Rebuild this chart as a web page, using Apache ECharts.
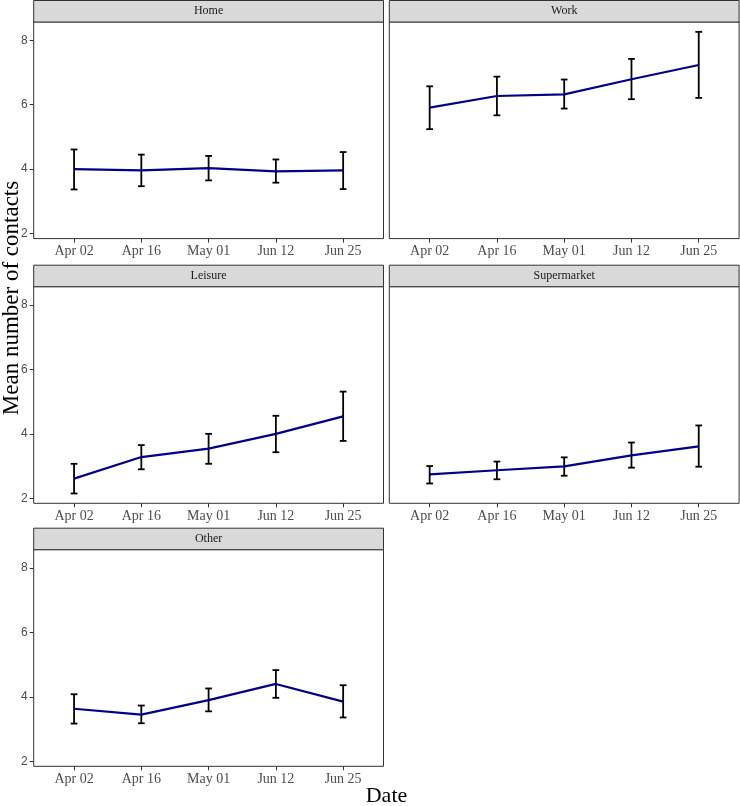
<!DOCTYPE html>
<html>
<head>
<meta charset="utf-8">
<script src="https://cdn.jsdelivr.net/npm/echarts@6/dist/echarts.min.js"></script>
<style>
html,body{margin:0;padding:0;background:#fff;}
#chart{width:740px;height:806px;}
</style>
</head>
<body>
<div id="chart"></div>
<script>
// ---- data ----
const categories = ['Apr 02', 'Apr 16', 'May 01', 'Jun 12', 'Jun 25'];
const panelNames = ['Home', 'Work', 'Leisure', 'Supermarket', 'Other'];
const yTicks = [2, 4, 6, 8];

const homeMean = [4.00, 3.96, 4.03, 3.93, 3.96];
const homeLow  = [3.37, 3.47, 3.65, 3.58, 3.38];
const homeHigh = [4.61, 4.45, 4.41, 4.30, 4.53];

const workMean = [5.91, 6.27, 6.32, 6.79, 7.23];
const workLow  = [5.24, 5.67, 5.88, 6.17, 6.21];
const workHigh = [6.57, 6.87, 6.78, 7.42, 8.26];

const leisureMean = [2.61, 3.28, 3.54, 4.00, 4.54];
const leisureLow  = [2.15, 2.90, 3.07, 3.43, 3.78];
const leisureHigh = [3.07, 3.65, 4.00, 4.56, 5.31];

const supermarketMean = [2.74, 2.87, 2.99, 3.33, 3.61];
const supermarketLow  = [2.46, 2.59, 2.70, 2.95, 2.98];
const supermarketHigh = [3.00, 3.14, 3.27, 3.73, 4.26];

const otherMean = [3.63, 3.45, 3.90, 4.40, 3.85];
const otherLow  = [3.17, 3.18, 3.55, 3.97, 3.36];
const otherHigh = [4.08, 3.73, 4.26, 4.83, 4.36];

const yTitle = 'Mean number of contacts';
const xTitle = 'Date';

// ---- layout ----
const panelSeries = [
  [homeMean, homeLow, homeHigh],
  [workMean, workLow, workHigh],
  [leisureMean, leisureLow, leisureHigh],
  [supermarketMean, supermarketLow, supermarketHigh],
  [otherMean, otherLow, otherHigh]
];
const colLeft = [33.7, 389.3];
const panelW = 349.8;
const rowTop = [22, 286.7, 549.7];
const panelH = 216.6;
const stripH = 21.5;
const yMin = 1.8445, yMax = 8.5655;
const serif = '"Liberation Serif", "DejaVu Serif", serif';
const sans = '"Liberation Sans", Arial, sans-serif';

const grids = [], xAxes = [], yAxes = [], series = [], graphics = [];

panelNames.forEach((name, i) => {
  const col = i % 2, row = Math.floor(i / 2);
  const left = colLeft[col], top = rowTop[row];
  const showY = col === 0;
  grids.push({
    left: left, top: top, width: panelW, height: panelH,
    show: true, borderColor: '#333333', borderWidth: 1, backgroundColor: '#ffffff',
    containLabel: false
  });
  xAxes.push({
    gridIndex: i, type: 'value', min: -0.6, max: 4.6, position: 'bottom',
    splitLine: { show: false },
    axisLine: { show: false, onZero: false },
    axisTick: { show: true, length: 4, lineStyle: { color: '#333333', width: 1 },
      customValues: categories.map((c, j) => j) },
    axisLabel: { customValues: categories.map((c, j) => j),
      formatter: v => categories[Math.round(v)] || '',
      fontFamily: serif, fontSize: 14, color: '#4d4d4d', margin: 6 }
  });
  yAxes.push({
    gridIndex: i, type: 'value', min: yMin, max: yMax, position: 'left',
    splitLine: { show: false },
    axisLine: { show: false, onZero: false },
    axisTick: { show: showY, length: 4, lineStyle: { color: '#333333', width: 1 },
      customValues: yTicks },
    axisLabel: { show: showY, customValues: yTicks, fontFamily: sans, fontSize: 12, color: '#4d4d4d', margin: 6 }
  });
  const [mean, low, high] = panelSeries[i];
  series.push({
    type: 'line', xAxisIndex: i, yAxisIndex: i,
    data: categories.map((c, j) => [j, mean[j]]),
    showSymbol: false, symbol: 'none', silent: true, animation: false,
    lineStyle: { color: '#00008B', width: 2.2 }
  });
  series.push({
    type: 'custom', xAxisIndex: i, yAxisIndex: i, animation: false, silent: true,
    clip: false,
    encode: { x: 0, y: [1, 2] },
    data: categories.map((c, j) => [j, low[j], high[j]]),
    renderItem: function (params, api) {
      const x = api.value(0);
      const pLo = api.coord([x, api.value(1)]);
      const pHi = api.coord([x, api.value(2)]);
      const half = api.coord([x + 0.05, api.value(1)])[0] - pLo[0];
      const st = { stroke: '#000000', lineWidth: 1.8, fill: null };
      return {
        type: 'group',
        children: [
          { type: 'line', shape: { x1: pLo[0], y1: pLo[1], x2: pHi[0], y2: pHi[1] }, style: st },
          { type: 'line', shape: { x1: pHi[0] - half, y1: pHi[1], x2: pHi[0] + half, y2: pHi[1] }, style: st },
          { type: 'line', shape: { x1: pLo[0] - half, y1: pLo[1], x2: pLo[0] + half, y2: pLo[1] }, style: st }
        ]
      };
    }
  });
  // strip
  graphics.push({
    type: 'rect', silent: true,
    shape: { x: left, y: top - stripH, width: panelW, height: stripH },
    style: { fill: '#d9d9d9', stroke: '#333333', lineWidth: 1 }
  });
  graphics.push({
    type: 'text', silent: true,
    x: left + panelW / 2, y: top - stripH / 2,
    style: { text: name, font: '12px ' + serif, fill: '#1a1a1a', align: 'center', verticalAlign: 'middle' }
  });
});

graphics.push({
  type: 'text', silent: true,
  x: 12, y: 298, rotation: Math.PI / 2,
  style: { text: yTitle, font: '23px ' + serif, fill: '#000000', align: 'center', verticalAlign: 'middle' }
});
graphics.push({
  type: 'text', silent: true,
  x: 386.5, y: 796,
  style: { text: xTitle, font: '22px ' + serif, fill: '#000000', align: 'center', verticalAlign: 'middle' }
});

const chart = echarts.init(document.getElementById('chart'), null, { renderer: 'canvas' });
chart.setOption({
  animation: false,
  backgroundColor: '#ffffff',
  grid: grids,
  xAxis: xAxes,
  yAxis: yAxes,
  series: series,
  graphic: graphics
});
</script>
</body>
</html>
